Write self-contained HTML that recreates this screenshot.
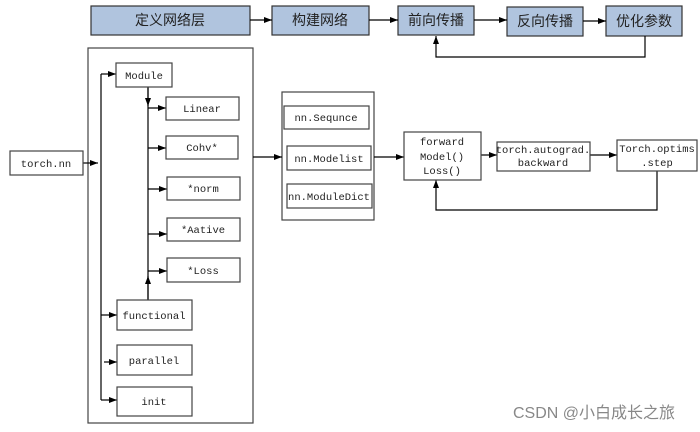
<!DOCTYPE html>
<html><head><meta charset="utf-8"><style>
html,body{margin:0;padding:0;background:#fff;}
svg{display:block;}
.t{font-family:"Liberation Mono","Noto Serif CJK SC",monospace;font-size:10.5px;fill:#222;text-anchor:middle;}
.c{font-family:"Liberation Sans","Noto Sans CJK SC",sans-serif;font-size:14px;fill:#222;text-anchor:middle;}
</style></head><body>
<svg width="700" height="432" viewBox="0 0 700 432" xmlns="http://www.w3.org/2000/svg">
<defs><marker id="a" markerWidth="8" markerHeight="6" refX="8" refY="3" orient="auto" markerUnits="userSpaceOnUse"><path d="M0,0 L8,3 L0,6z" fill="#000"/></marker></defs>
<g fill="none" stroke="#444" stroke-width="1.2">
<rect x="88" y="48" width="165" height="375"/>
<rect x="282" y="92" width="92" height="128"/>
</g>
<g fill="#b0c4de" stroke="#333" stroke-width="1.2">
<rect x="91" y="6" width="159" height="29"/>
<rect x="272" y="6" width="97" height="29"/>
<rect x="398" y="6" width="76" height="29"/>
<rect x="507" y="7" width="76" height="29"/>
<rect x="606" y="6" width="76" height="30"/>
</g>
<text class="c" x="170" y="25">定义网络层</text>
<text class="c" x="320" y="25">构建网络</text>
<text class="c" x="436" y="25">前向传播</text>
<text class="c" x="545" y="26">反向传播</text>
<text class="c" x="644" y="26">优化参数</text>
<line x1="101" y1="74" x2="101" y2="400" stroke="#000" stroke-width="1.2"/>
<line x1="148" y1="87" x2="148" y2="300" stroke="#000" stroke-width="1.2"/>
<g stroke="#000" stroke-width="1.2" fill="none" marker-end="url(#a)">
<line x1="250" y1="20" x2="272" y2="20"/>
<line x1="369" y1="20" x2="398" y2="20"/>
<line x1="474" y1="20" x2="507" y2="20"/>
<line x1="583" y1="21" x2="606" y2="21"/>
<polyline points="645,36 645,57 436,57 436,36"/>
<line x1="83" y1="163" x2="98" y2="163"/>
<line x1="101" y1="74" x2="116" y2="74"/>
<line x1="101" y1="315" x2="117" y2="315"/>
<line x1="104" y1="362" x2="117" y2="362"/>
<line x1="101" y1="400" x2="117" y2="400"/>
<line x1="148" y1="87" x2="148" y2="106"/>
<line x1="148" y1="300" x2="148" y2="276"/>
<line x1="148" y1="108" x2="166" y2="108"/>
<line x1="148" y1="148" x2="166" y2="148"/>
<line x1="148" y1="189" x2="167" y2="189"/>
<line x1="148" y1="234" x2="167" y2="234"/>
<line x1="148" y1="271" x2="167" y2="271"/>
<line x1="253" y1="157" x2="282" y2="157"/>
<line x1="374" y1="157" x2="404" y2="157"/>
<line x1="481" y1="155" x2="497" y2="155"/>
<line x1="590" y1="155" x2="617" y2="155"/>
<polyline points="657,171 657,210 436,210 436,180"/>
</g>
<g fill="#fff" stroke="#444" stroke-width="1.2">
<rect x="10" y="151" width="73" height="24"/>
<rect x="116" y="63" width="56" height="24"/>
<rect x="166" y="97" width="73" height="23"/>
<rect x="166" y="136" width="72" height="23"/>
<rect x="167" y="177" width="73" height="23"/>
<rect x="167" y="218" width="73" height="23"/>
<rect x="167" y="258" width="73" height="24"/>
<rect x="117" y="300" width="75" height="30"/>
<rect x="117" y="345" width="75" height="30"/>
<rect x="117" y="387" width="75" height="29"/>
<rect x="284" y="106" width="85" height="23"/>
<rect x="287" y="146" width="84" height="24"/>
<rect x="287" y="184" width="85" height="24"/>
<rect x="404" y="132" width="77" height="48"/>
<rect x="497" y="142" width="93" height="29"/>
<rect x="617" y="140" width="80" height="31"/>
</g>
<text class="t" x="46" y="167">torch.nn</text>
<text class="t" x="144" y="79">Module</text>
<text class="t" x="202" y="112">Linear</text>
<text class="t" x="202" y="151">Cohv*</text>
<text class="t" x="203" y="192">*norm</text>
<text class="t" x="203" y="233">*Aative</text>
<text class="t" x="203" y="274">*Loss</text>
<text class="t" x="154" y="319">functional</text>
<text class="t" x="154" y="364">parallel</text>
<text class="t" x="154" y="405">init</text>
<text class="t" x="326" y="121">nn.Sequnce</text>
<text class="t" x="329" y="162">nn.Modelist</text>
<text class="t" x="329" y="200">nn.ModuleDict</text>
<text class="t" x="442" y="145">forward</text>
<text class="t" x="442" y="160">Model()</text>
<text class="t" x="442" y="174">Loss()</text>
<text class="t" x="543" y="153">torch.autograd.</text>
<text class="t" x="543" y="166">backward</text>
<text class="t" x="657" y="152">Torch.optims</text>
<text class="t" x="657" y="166">.step</text>
<text x="594" y="418" style="font-family:'Liberation Sans','Noto Sans CJK SC',sans-serif;font-size:16px;fill:#888;text-anchor:middle">CSDN @小白成长之旅</text>
</svg>
</body></html>
